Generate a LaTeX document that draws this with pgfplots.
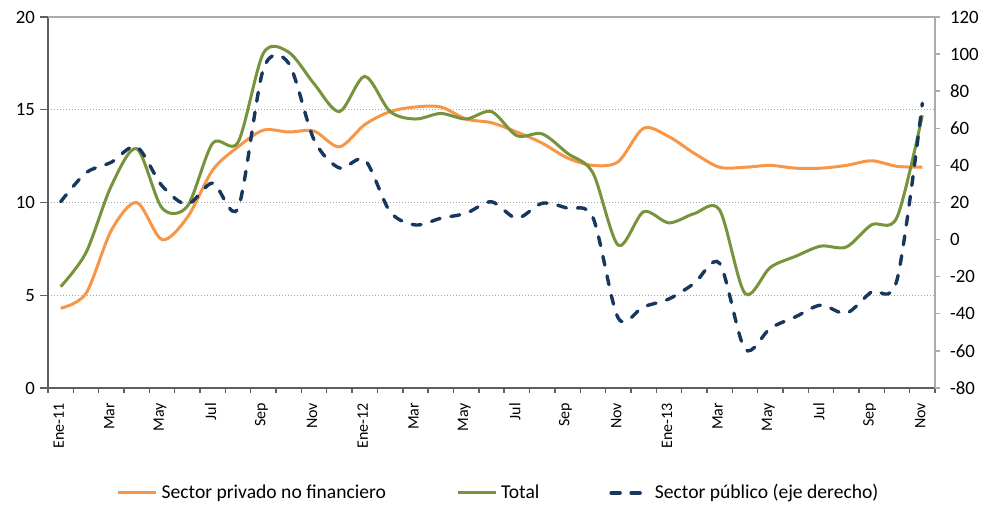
\documentclass[border=0pt]{standalone}
\usepackage{fontspec}
\setmainfont{Carlito}
\usepackage{pgfplots}
\usepackage{pgfplotstable}
\pgfplotsset{compat=1.18}

\definecolor{privado}{HTML}{F79646}
\definecolor{total}{HTML}{77933C}
\definecolor{publico}{HTML}{17375E}
\definecolor{axisdark}{HTML}{5F5F5F}
\definecolor{axislight}{HTML}{ABABAB}

% i = meses desde ene-11
\pgfplotstableread{
i  privado total publico
0  4.30   5.46   20.4
1  5.10   7.30   36.0
2  8.50  10.90   41.7
3  10.00 12.90   50.0
4  8.00   9.70   29.0
5  9.20   9.80   19.0
6  11.75 13.20   30.5
7  13.00 13.25   17.0
8  13.90 18.05   92.0
9  13.80 18.10   95.0
10 13.85 16.40   53.7
11 13.00 14.90   38.6
12 14.20 16.80   43.0
13 14.90 14.90   15.0
14 15.15 14.50    7.9
15 15.15 14.80   11.5
16 14.50 14.50   14.2
17 14.30 14.90   20.4
18 13.80 13.60   11.5
19 13.20 13.70   19.6
20 12.40 12.65   16.9
21 12.00 11.60   12.0
22 12.20  7.70  -42.3
23 14.00  9.50  -36.2
24 13.55  8.90  -32.0
25 12.65  9.40  -23.6
26 11.90  9.60  -12.8
27 11.90  5.10  -59.0
28 12.00  6.50  -47.8
29 11.85  7.10  -41.6
30 11.85  7.65  -35.3
31 12.00  7.60  -39.7
32 12.25  8.80  -28.1
33 11.95  9.20  -21.8
34 11.90 14.70   73.5
}\datos

\begin{document}
\begin{tikzpicture}
\pgfplotsset{
  common/.style={
    scale only axis, width=443.5pt, height=185.5pt,
    xmin=-0.5, xmax=34.5,
    tick align=outside,
    tick label style={font=\fontsize{9.4}{11}\selectfont},
    /pgf/number format/assume math mode=true,
  },
}
\begin{axis}[common, name=main,
  axis x line*=bottom, axis y line*=left,
  axis line style={draw=axisdark, line width=0.9pt, -},
  every tick/.style={draw=axisdark, line width=0.7pt},
  ymin=0, ymax=20, ytick={0,5,...,20},
  major tick length=4pt, minor tick length=2.5pt,
  yticklabel style={xshift=1pt},
  xtick={0,2,...,34},
  xticklabels={Ene-11,Mar,May,Jul,Sep,Nov,Ene-12,Mar,May,Jul,Sep,Nov,Ene-13,Mar,May,Jul,Sep,Nov},
  x tick label style={rotate=90, anchor=east, font=\fontsize{8}{9}\selectfont, yshift=1pt},
  every major x tick/.style={draw=none},
  minor xtick={-0.5,0.5,...,34.5},
  ymajorgrids,
  grid style={draw=gray!70, dash pattern=on 0.5pt off 1pt, line width=0.5pt},
]
\addplot[privado, line width=1.5pt, smooth] table[x=i, y=privado]{\datos};
\addplot[total, line width=1.5pt, smooth] table[x=i, y=total]{\datos};
\end{axis}
\begin{axis}[common,
  axis y line*=right, axis x line*=top, xtick=\empty,
  axis line style={draw=axislight, line width=0.9pt, -},
  every tick/.style={draw=axislight, line width=0.7pt},
  major tick length=2.5pt,
  yticklabel style={xshift=1.5pt},
  ymin=-80, ymax=120, ytick={-80,-60,...,120},
  legend columns=3,
  legend style={at={(0.5,-0.283)}, anchor=center, xshift=4pt, draw=none,
    font=\fontsize{9.8}{12}\selectfont,
    /tikz/every even column/.append style={column sep=33pt}},
  legend image code/.code={\draw[#1] (0pt,0pt) -- (19pt,0pt);},
]
\addlegendimage{privado, line width=1.5pt}
\addlegendentry{Sector privado no financiero}
\addlegendimage{total, line width=1.5pt}
\addlegendentry{Total}
\addplot[publico, line width=1.7pt, smooth, line cap=round, dash pattern=on 4.5pt off 5.5pt] table[x=i, y=publico]{\datos};
\addlegendentry{Sector público (eje derecho)}
\end{axis}
\pgfresetboundingbox
\path (main.south west) ++(-24pt,-60pt) coordinate (bbA);
\path (main.north east) ++(25pt,8.5pt) coordinate (bbB);
\useasboundingbox (bbA) rectangle (bbB);
\end{tikzpicture}
\end{document}
